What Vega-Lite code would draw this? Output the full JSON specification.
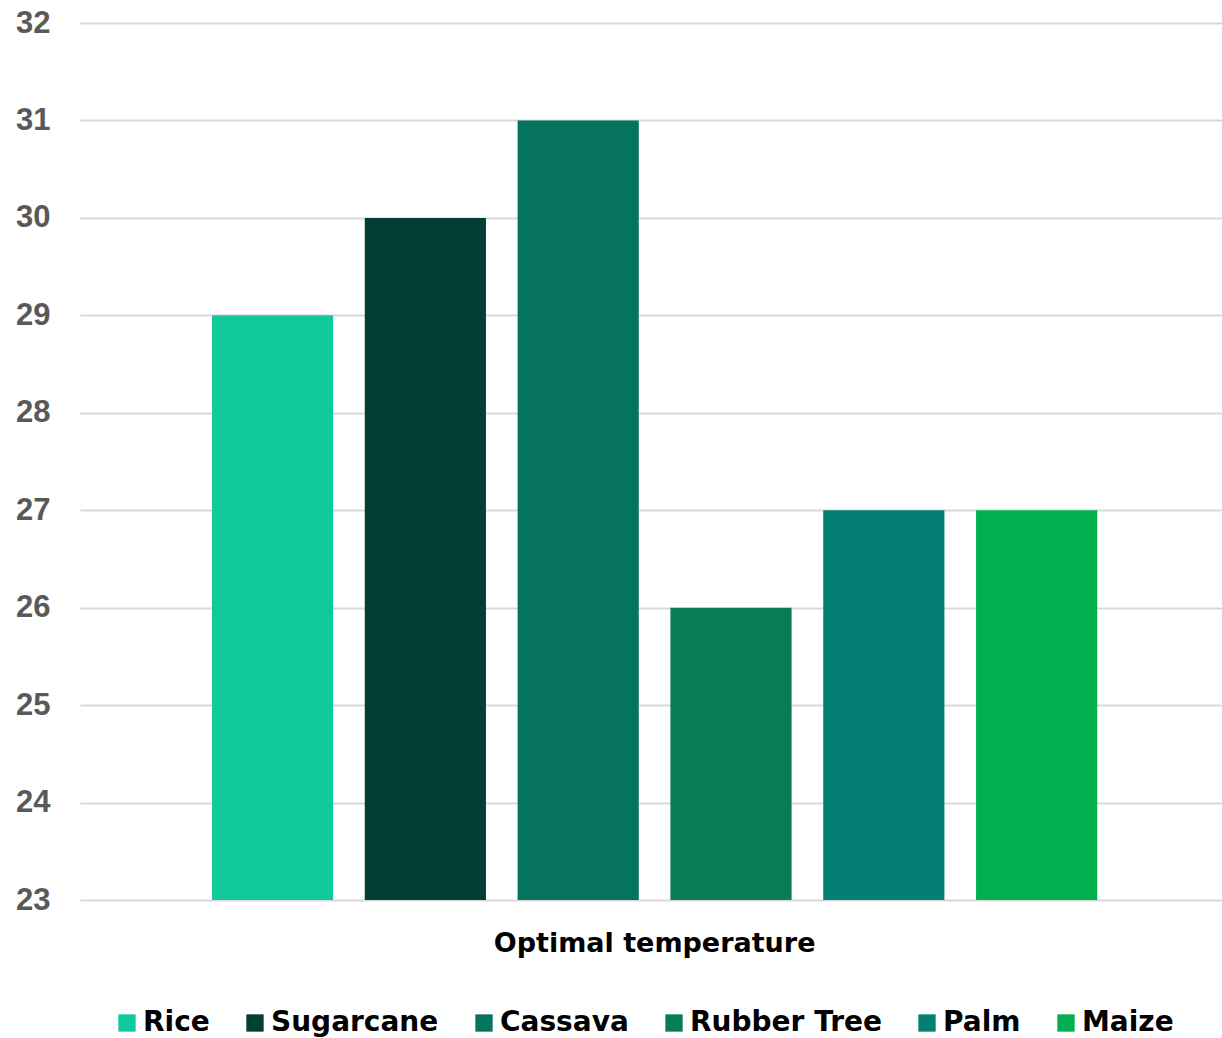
{
  "$schema": "https://vega.github.io/schema/vega-lite/v6.json",
  "width": 1142,
  "height": 877,
  "autosize": "none",
  "padding": {"left": 80, "top": 23, "right": 0, "bottom": 138},
  "background": "white",
  "config": {"view": {"stroke": null}},
  "data": {
    "values": [
      {"category": "Optimal temperature", "crop": "Rice", "value": 29},
      {"category": "Optimal temperature", "crop": "Sugarcane", "value": 30},
      {"category": "Optimal temperature", "crop": "Cassava", "value": 31},
      {"category": "Optimal temperature", "crop": "Rubber Tree", "value": 26},
      {"category": "Optimal temperature", "crop": "Palm", "value": 27},
      {"category": "Optimal temperature", "crop": "Maize", "value": 27}
    ]
  },
  "mark": {"type": "bar"},
  "encoding": {
    "x": {
      "field": "category",
      "type": "nominal",
      "title": null,
      "scale": {"paddingInner": 0, "paddingOuter": 0.145, "align": 0.514},
      "axis": {
        "labelAngle": 0,
        "labelLimit": 0,
        "domain": false,
        "ticks": false,
        "labelFont": "DejaVu Sans",
        "labelFontWeight": "bold",
        "labelFontSize": 27,
        "labelColor": "#000000",
        "labelPadding": 30
      }
    },
    "xOffset": {
      "field": "crop",
      "type": "nominal",
      "sort": ["Rice", "Sugarcane", "Cassava", "Rubber Tree", "Palm", "Maize"],
      "scale": {"paddingInner": 0.207, "paddingOuter": 0}
    },
    "y": {
      "field": "value",
      "type": "quantitative",
      "title": null,
      "scale": {"domain": [23, 32], "zero": false, "nice": false},
      "axis": {
        "values": [23, 24, 25, 26, 27, 28, 29, 30, 31, 32],
        "domain": false,
        "ticks": false,
        "grid": true,
        "gridColor": "#D9D9D9",
        "gridWidth": 2,
        "labelFont": "Liberation Sans",
        "labelFontWeight": "bold",
        "labelFontSize": 31,
        "labelColor": "#595959",
        "labelPadding": 30
      }
    },
    "y2": {"datum": 23},
    "color": {
      "field": "crop",
      "type": "nominal",
      "sort": ["Rice", "Sugarcane", "Cassava", "Rubber Tree", "Palm", "Maize"],
      "scale": {
        "domain": ["Rice", "Sugarcane", "Cassava", "Rubber Tree", "Palm", "Maize"],
        "range": ["#10CA9C", "#033E34", "#06735E", "#087C57", "#038073", "#01AF4F"]
      },
      "legend": {
        "title": null,
        "orient": "none",
        "legendX": 33,
        "legendY": 986,
        "direction": "horizontal",
        "symbolType": "square",
        "symbolSize": 300,
        "symbolStrokeWidth": 0,
        "labelFont": "DejaVu Sans",
        "labelFontWeight": "bold",
        "labelFontSize": 28,
        "labelOffset": 2,
        "labelLimit": 0,
        "labelColor": "#000000",
        "columnPadding": 31
      }
    }
  }
}
